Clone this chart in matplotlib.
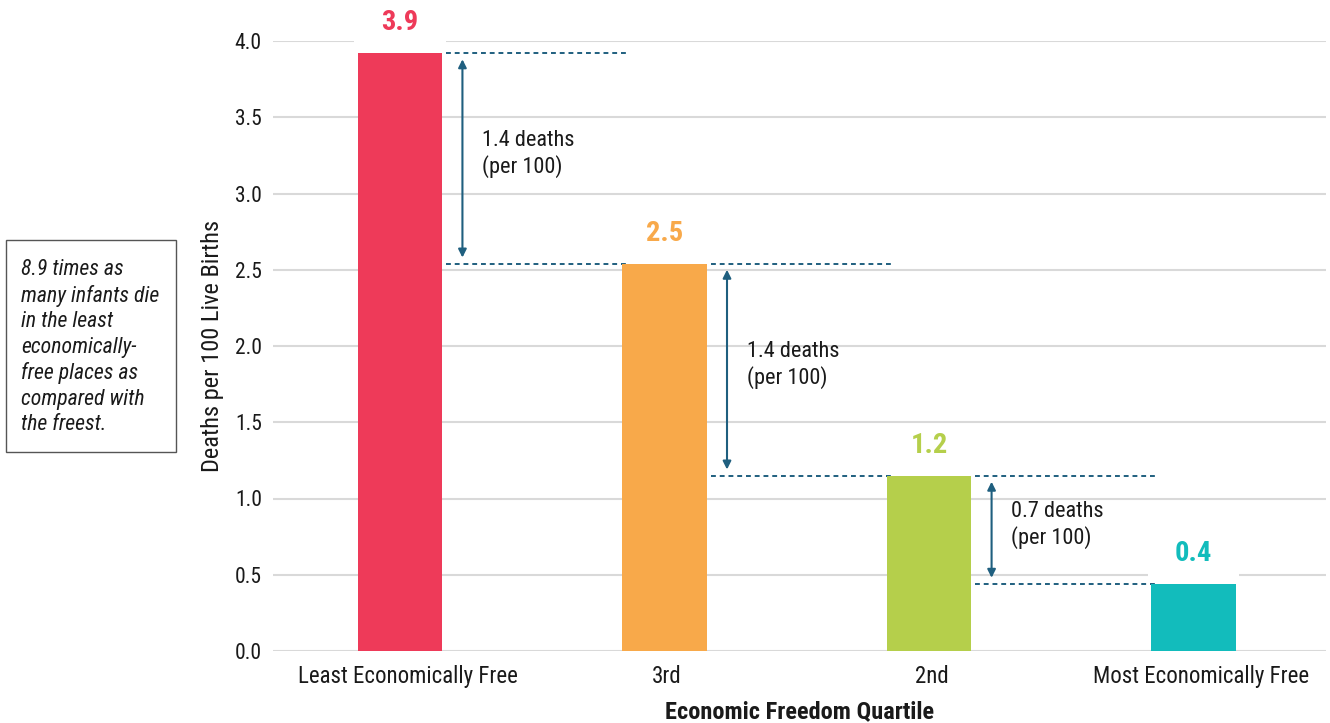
import matplotlib
matplotlib.use("Agg")
import matplotlib.pyplot as plt
from matplotlib.patches import Rectangle
from matplotlib.transforms import ScaledTranslation

categories = ["Least Economically Free", "3rd", "2nd", "Most Economically Free"]
values = [3.92, 2.54, 1.15, 0.44]
value_labels = ["3.9", "2.5", "1.2", "0.4"]
bar_colors = ["#EE3A59", "#F8A94A", "#B5CF4B", "#12BCBC"]
diff_labels = ["1.4 deaths\n(per 100)", "1.4 deaths\n(per 100)", "0.7 deaths\n(per 100)"]
yticks = [0.0, 0.5, 1.0, 1.5, 2.0, 2.5, 3.0, 3.5, 4.0]
note_text = ("8.9 times as\nmany infants die\nin the least\neconomically-\n"
             "free places as\ncompared with\nthe freest.")

plt.rcParams['font.family'] = ['Roboto Condensed', 'Roboto', 'DejaVu Sans']
ann_color = "#1F5F7F"
text_color = "#1a1a1a"

fig = plt.figure(figsize=(13.3, 7.23), dpi=100)
ax = fig.add_axes([273/1330, 72/723, 1053/1330, 610/723])

x = list(range(len(categories)))
ax.bar(x, values, width=0.32, color=bar_colors, zorder=3)
ax.set_xlim(-0.48, 3.50)
ax.set_ylim(0, 4.0)
ax.set_yticks(yticks)
ax.set_yticklabels([f"{v:.1f}" for v in yticks])
ax.set_xticks(x)
ax.set_xticklabels(categories)
ax.tick_params(axis='both', length=0, colors=text_color)
ax.tick_params(axis='y', pad=8, labelsize=15.5)
ax.tick_params(axis='x', pad=10, labelsize=16.5)
label_shift_px = [7.8, 2.0, 2.8, 7.8]
for lbl, dx in zip(ax.get_xticklabels(), label_shift_px):
    lbl.set_transform(lbl.get_transform() + ScaledTranslation(dx / 100, 0, fig.dpi_scale_trans))
ax.grid(axis='y', color="#d9d9d9", lw=1.5, zorder=0)
ax.set_axisbelow(True)
for s in ax.spines.values():
    s.set_visible(False)

ax.set_ylabel("Deaths per 100 Live Births", fontsize=17.6, color=text_color, labelpad=8)
ax.set_xlabel("Economic Freedom Quartile", fontsize=17.6, fontweight='bold',
              color=text_color, labelpad=9)

# value labels with white background patch
for xi, v, lab, c in zip(x, values, value_labels, bar_colors):
    ax.add_patch(Rectangle((xi - 0.172, v), 0.344, 0.14, fc='white', ec='none',
                           zorder=2.5, clip_on=False))
    ax.annotate(lab, (xi, v), xytext=(0, 16.5), textcoords='offset points',
                ha='center', va='baseline', fontsize=20.5, fontweight='bold', color=c,
                annotation_clip=False, zorder=4)

# dashed reference lines, arrows and difference text
for i in range(len(values) - 1):
    top, bot = values[i], values[i + 1]
    for yv in (top, bot):
        ax.plot([i + 0.175, i + 0.86], [yv, yv], ls=(0, (2.5, 2)), color=ann_color,
                lw=1.4, zorder=2.7)
    ax.annotate("", xy=(i + 0.236, bot + 0.04), xytext=(i + 0.236, top - 0.04),
                arrowprops=dict(arrowstyle='<|-|>', color=ann_color, lw=1.5,
                                mutation_scale=12, shrinkA=0, shrinkB=0), zorder=4)
    ax.text(i + 0.31, (top + bot) / 2 + 0.03, diff_labels[i], ha='left', va='center',
            fontsize=16, color=text_color, linespacing=1.22)

# note box
fig.patches.append(Rectangle((6/1330, 1 - 452/723), 170/1330, 212/723,
                             transform=fig.transFigure, fc='white', ec='#555555', lw=1))
fig.text(21/1330, 1 - 347/723, note_text, ha='left', va='center', fontsize=15.7,
         style='italic', color=text_color, linespacing=1.28)

fig.savefig("out.png", dpi=100)
